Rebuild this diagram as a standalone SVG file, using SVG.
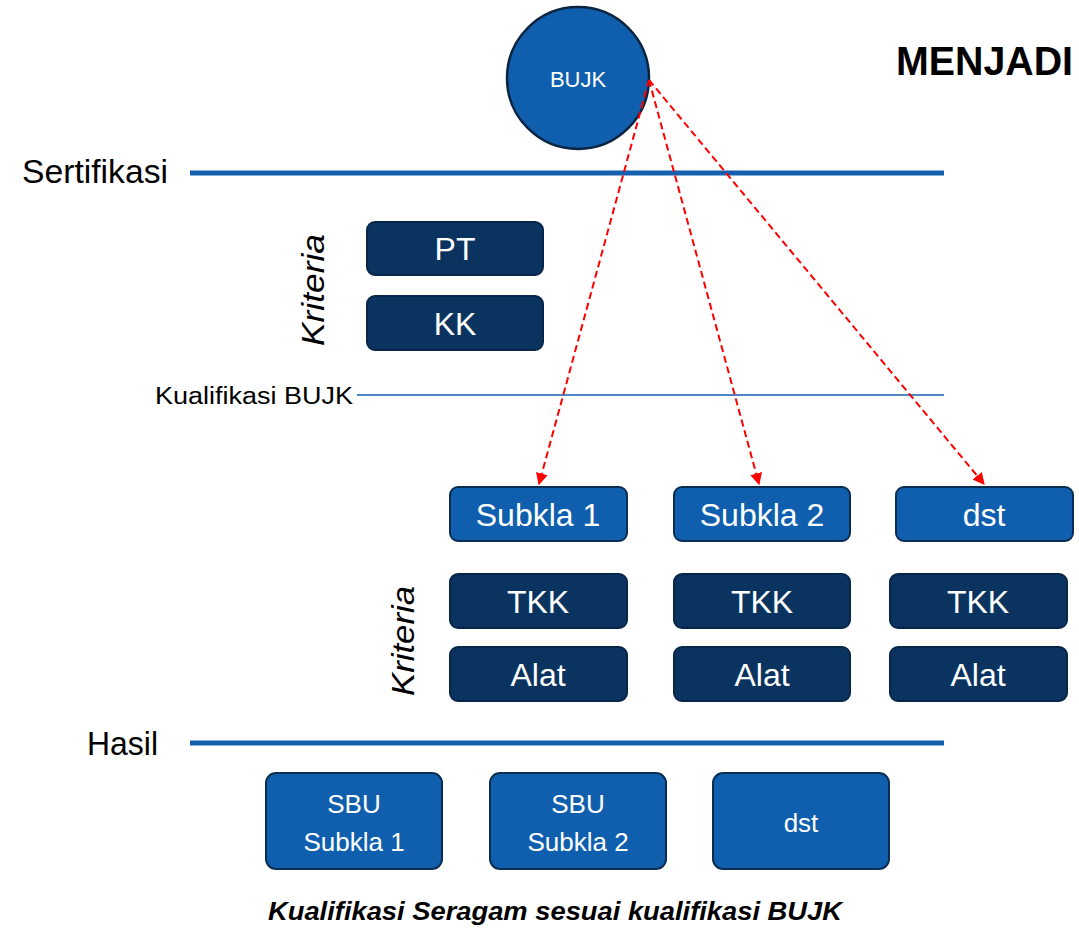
<svg xmlns="http://www.w3.org/2000/svg" width="1079" height="929" viewBox="0 0 1079 929">
<style>
text{font-family:"Liberation Sans",Arial,sans-serif}
.lb{fill:#0f5fae;stroke:#0b2d52;stroke-width:2}
.db{fill:#0a345f;stroke:#07264a;stroke-width:2}
.wt{fill:#ffffff;text-anchor:middle}
.bt{fill:#000000}
.hl{stroke:#1560ae;stroke-width:5;fill:none}
.arr{stroke:#ff0000;stroke-width:2;stroke-dasharray:7 4;fill:none}
</style>
<defs>
<marker id="ah" viewBox="0 0 10 10" refX="9" refY="5" markerWidth="6" markerHeight="6" orient="auto" markerUnits="strokeWidth">
<path d="M0,0 L10,5 L0,10 z" fill="#ff0000"/>
</marker>
</defs>
<rect width="1079" height="929" fill="#ffffff"/>

<g id="lines">
<line class="hl" x1="190" y1="173" x2="944" y2="173"/>
<line x1="357" y1="395" x2="944" y2="395" stroke="#1560ae" stroke-width="1.5"/>
<line class="hl" x1="190" y1="743" x2="944" y2="743"/>
</g>

<g id="labels">
<text class="bt" x="22" y="183" font-size="33" textLength="146" lengthAdjust="spacingAndGlyphs">Sertifikasi</text>
<text class="bt" x="155" y="404" font-size="23" textLength="198" lengthAdjust="spacingAndGlyphs">Kualifikasi BUJK</text>
<text class="bt" x="87" y="755" font-size="33" textLength="71" lengthAdjust="spacingAndGlyphs">Hasil</text>
<text class="bt" x="896" y="75" font-size="41" font-weight="bold" textLength="177" lengthAdjust="spacingAndGlyphs">MENJADI</text>
<text class="bt" transform="translate(324,290) rotate(-90)" text-anchor="middle" font-size="32" font-style="italic" textLength="112" lengthAdjust="spacingAndGlyphs">Kriteria</text>
<text class="bt" transform="translate(414,641) rotate(-90)" text-anchor="middle" font-size="32" font-style="italic" textLength="110" lengthAdjust="spacingAndGlyphs">Kriteria</text>
<text class="bt" x="555" y="920" text-anchor="middle" font-size="25" font-weight="bold" font-style="italic" textLength="574" lengthAdjust="spacingAndGlyphs">Kualifikasi Seragam sesuai kualifikasi BUJK</text>
</g>

<g id="bujk">
<circle cx="578" cy="78" r="71" fill="#0f5fae" stroke="#0b2540" stroke-width="2.5"/>
<text class="wt" x="578" y="87" font-size="22">BUJK</text>
</g>

<g id="pt"><rect class="db" x="367" y="222" width="176" height="53" rx="8"/><text class="wt" x="455" y="260" font-size="32">PT</text></g>
<g id="kk"><rect class="db" x="367" y="296" width="176" height="54" rx="8"/><text class="wt" x="455" y="335" font-size="32">KK</text></g>

<g id="subkla1"><rect class="lb" x="450" y="487" width="177" height="54" rx="8"/><text class="wt" x="538" y="526" font-size="32">Subkla 1</text></g>
<g id="subkla2"><rect class="lb" x="674" y="487" width="176" height="54" rx="8"/><text class="wt" x="762" y="526" font-size="32">Subkla 2</text></g>
<g id="dst1"><rect class="lb" x="896" y="487" width="177" height="54" rx="8"/><text class="wt" x="984" y="526" font-size="32">dst</text></g>

<g id="tkk1"><rect class="db" x="450" y="574" width="177" height="54" rx="8"/><text class="wt" x="538" y="613" font-size="32">TKK</text></g>
<g id="tkk2"><rect class="db" x="674" y="574" width="176" height="54" rx="8"/><text class="wt" x="762" y="613" font-size="32">TKK</text></g>
<g id="tkk3"><rect class="db" x="890" y="574" width="177" height="54" rx="8"/><text class="wt" x="978" y="613" font-size="32">TKK</text></g>

<g id="alat1"><rect class="db" x="450" y="647" width="177" height="54" rx="8"/><text class="wt" x="538" y="686" font-size="32">Alat</text></g>
<g id="alat2"><rect class="db" x="674" y="647" width="176" height="54" rx="8"/><text class="wt" x="762" y="686" font-size="32">Alat</text></g>
<g id="alat3"><rect class="db" x="890" y="647" width="177" height="54" rx="8"/><text class="wt" x="978" y="686" font-size="32">Alat</text></g>

<g id="sbu1"><rect class="lb" x="266" y="773" width="176" height="96" rx="10"/><text class="wt" x="354" y="813" font-size="26">SBU</text><text class="wt" x="354" y="851" font-size="26">Subkla 1</text></g>
<g id="sbu2"><rect class="lb" x="490" y="773" width="176" height="96" rx="10"/><text class="wt" x="578" y="813" font-size="26">SBU</text><text class="wt" x="578" y="851" font-size="26">Subkla 2</text></g>
<g id="sbu3"><rect class="lb" x="713" y="773" width="176" height="96" rx="10"/><text class="wt" x="801" y="832" font-size="26">dst</text></g>

<g id="connectors">
<line class="arr" x1="649" y1="80" x2="539" y2="484" marker-end="url(#ah)"/>
<line class="arr" x1="649" y1="80" x2="759" y2="484" marker-end="url(#ah)"/>
<line class="arr" x1="649" y1="80" x2="984" y2="484" marker-end="url(#ah)"/>
</g>
</svg>
